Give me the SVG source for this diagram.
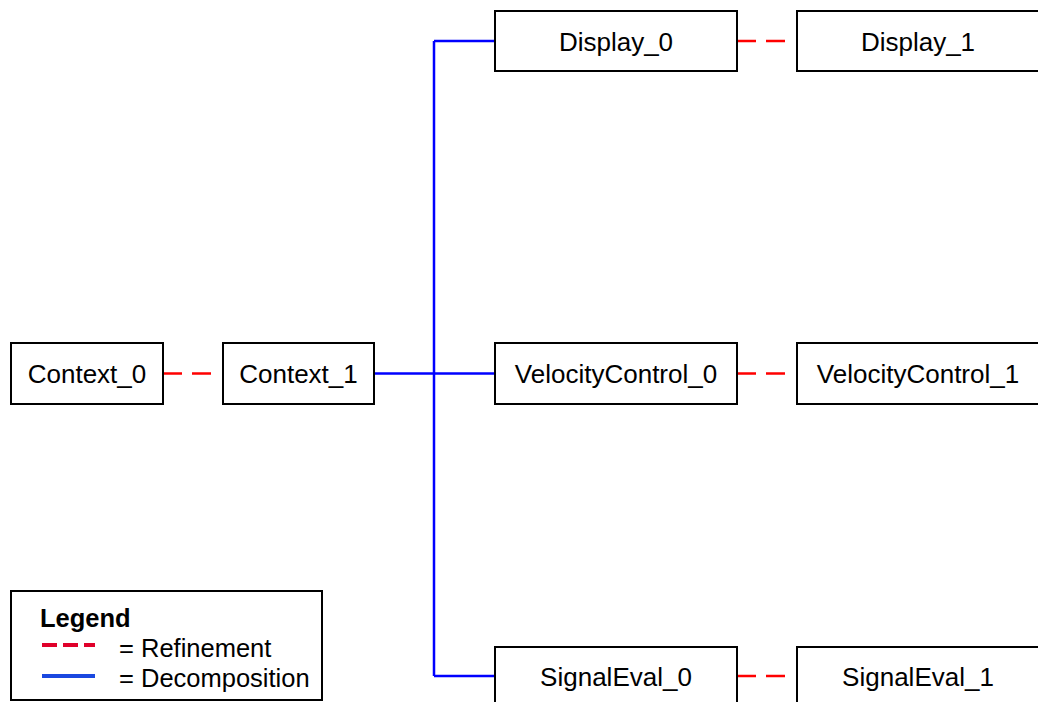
<svg xmlns="http://www.w3.org/2000/svg" width="1038" height="702" viewBox="0 0 1038 702">
  <style>
    .box { fill: #ffffff; stroke: #000000; stroke-width: 2; }
    .label { font-family: "Liberation Sans", Arial, sans-serif; font-size: 26px; fill: #000000; text-anchor: middle; }
    .decomp { fill: none; stroke: #0000ff; stroke-width: 2.5; }
    .refine { fill: none; stroke: #ff0000; stroke-width: 2.5; stroke-dasharray: 19 10; }
    .legend-text { font-family: "Liberation Sans", Arial, sans-serif; font-size: 25.5px; fill: #000000; }
  </style>
  <rect width="1038" height="702" fill="#ffffff"/>

  <!-- connectors -->
  <g id="connectors">
    <!-- decomposition of Context_1 -->
    <path class="decomp" d="M374 373.5 H495"/>
    <path class="decomp" d="M434 41 V676"/>
    <path class="decomp" d="M434 41 H495"/>
    <path class="decomp" d="M434 676 H495"/>
    <!-- refinements: two dashes, the gap before the target box -->
    <path class="refine" d="M163 373.5 H212"/>
    <path class="refine" d="M737 41 H786"/>
    <path class="refine" d="M737 373.5 H786"/>
    <path class="refine" d="M737 676 H786"/>
  </g>

  <!-- nodes -->
  <g id="context_0">
    <rect class="box" x="11" y="343" width="152" height="61"/>
    <text class="label" x="87" y="383">Context_0</text>
  </g>
  <g id="context_1">
    <rect class="box" x="223" y="343" width="151" height="61"/>
    <text class="label" x="298.5" y="383">Context_1</text>
  </g>
  <g id="display_0">
    <rect class="box" x="495" y="11" width="242" height="60"/>
    <text class="label" x="616" y="50.5">Display_0</text>
  </g>
  <g id="display_1">
    <rect class="box" x="797" y="11" width="243" height="60"/>
    <text class="label" x="918" y="50.5">Display_1</text>
  </g>
  <g id="velocitycontrol_0">
    <rect class="box" x="495" y="343" width="242" height="61"/>
    <text class="label" x="616" y="383">VelocityControl_0</text>
  </g>
  <g id="velocitycontrol_1">
    <rect class="box" x="797" y="343" width="243" height="61"/>
    <text class="label" x="918" y="383">VelocityControl_1</text>
  </g>
  <g id="signaleval_0">
    <rect class="box" x="495" y="647" width="242" height="61"/>
    <text class="label" x="616" y="685.5">SignalEval_0</text>
  </g>
  <g id="signaleval_1">
    <rect class="box" x="797" y="647" width="243" height="61"/>
    <text class="label" x="918" y="685.5">SignalEval_1</text>
  </g>

  <!-- legend -->
  <g id="legend">
    <rect class="box" x="11" y="591" width="311" height="109"/>
    <text class="legend-text" x="40" y="627" font-weight="bold" font-size="24">Legend</text>
    <path d="M42 645 H95" fill="none" stroke="#e0002a" stroke-width="4" stroke-dasharray="15 6"/>
    <text class="legend-text" x="119" y="657">= Refinement</text>
    <path d="M42 676 H95" fill="none" stroke="#1a48e0" stroke-width="4"/>
    <text class="legend-text" x="119" y="687">= Decomposition</text>
  </g>
</svg>
